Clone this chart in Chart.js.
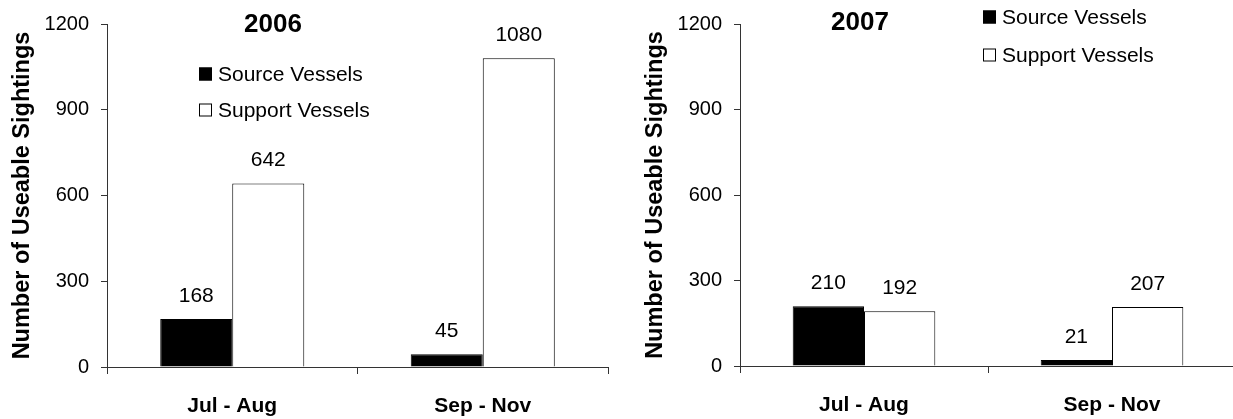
<!DOCTYPE html>
<html lang="en">
<head>
    <meta charset="UTF-8">
    <title>Useable Sightings</title>
    <script src="https://cdn.jsdelivr.net/npm/chart.js@4.4.1/dist/chart.umd.min.js"></script>
    <style>
        html, body { margin: 0; padding: 0; background: #fff; overflow: hidden; }
        .box { position: absolute; top: 0; height: 419px; }
        #box2006 { left: 0; width: 612px; }
        #box2007 { left: 633px; width: 606px; }
    </style>
</head>
<body>
<div class="box" id="box2006"><canvas id="chart2006" width="612" height="419"></canvas></div>
<div class="box" id="box2007"><canvas id="chart2007" width="606" height="419"></canvas></div>
<script>
    var categories = ["Jul - Aug", "Sep - Nov"];
    var seriesNames = ["Source Vessels", "Support Vessels"];
    var source2006 = [168, 45];
    var support2006 = [642, 1080];
    var source2007 = [210, 21];
    var support2007 = [192, 207];
    var yTicks = [0, 300, 600, 900, 1200];

    var FONT = "'Liberation Sans', Arial, sans-serif";
    var AXIS = "#333";

    // value labels above each bar
    var valueLabels = {
        id: "valueLabels",
        afterDatasetsDraw: function (chart) {
            var ctx = chart.ctx;
            ctx.save();
            ctx.font = "21px " + FONT;
            ctx.fillStyle = "#000";
            ctx.textAlign = "center";
            ctx.textBaseline = "alphabetic";
            chart.data.datasets.forEach(function (ds, i) {
                chart.getDatasetMeta(i).data.forEach(function (bar, j) {
                    ctx.fillText(String(ds.data[j]), bar.x, bar.y - 17);
                });
            });
            ctx.restore();
        }
    };

    // year title and the legend placed inside the plot
    var insideText = {
        id: "insideText",
        afterDraw: function (chart, args, opts) {
            var ctx = chart.ctx;
            var left = chart.chartArea.left;
            ctx.save();
            ctx.fillStyle = "#000";
            ctx.textAlign = "center";
            ctx.textBaseline = "middle";
            ctx.font = "bold 26px " + FONT;
            ctx.fillText(opts.title, left + opts.titleX, opts.titleY);

            ctx.font = "21px " + FONT;
            ctx.textAlign = "left";
            chart.data.datasets.forEach(function (ds, i) {
                var x = left + opts.legendX;
                var y = opts.legendY + i * opts.legendGap;
                ctx.fillStyle = ds.backgroundColor;
                ctx.fillRect(x, y - 6.5, 13, 13);
                ctx.strokeStyle = "#000";
                ctx.lineWidth = 1;
                ctx.strokeRect(x + 0.5, y - 6, 12, 12);
                ctx.fillStyle = "#000";
                ctx.fillText(ds.label, x + 19, y + 1);
            });
            ctx.restore();
        }
    };

    function makeChart(id, source, support, o) {
        return new Chart(document.getElementById(id), {
            type: "bar",
            data: {
                labels: categories,
                datasets: [
                    {
                        label: seriesNames[0],
                        data: source,
                        backgroundColor: "#000",
                        borderColor: "#000",
                        borderWidth: 1
                    },
                    {
                        label: seriesNames[1],
                        data: support,
                        backgroundColor: "#fff",
                        borderColor: "#000",
                        borderWidth: 1
                    }
                ]
            },
            options: {
                responsive: false,
                animation: false,
                events: [],
                barPercentage: 1,
                categoryPercentage: 0.575,
                layout: {padding: {top: o.top, right: o.right, bottom: 0, left: 0}},
                plugins: {
                    legend: {display: false},
                    tooltip: {enabled: false},
                    insideText: o
                },
                scales: {
                    x: {
                        grid: {
                            offset: true,
                            drawOnChartArea: false,
                            color: AXIS,
                            tickLength: 7
                        },
                        border: {color: AXIS},
                        ticks: {
                            color: "#000",
                            padding: 20,
                            font: {family: FONT, size: 21, weight: "bold"}
                        },
                        afterFit: function (scale) {
                            scale.height = 419 - o.bottom;
                        }
                    },
                    y: {
                        min: 0,
                        max: 1200,
                        afterBuildTicks: function (scale) {
                            scale.ticks = yTicks.map(function (v) { return {value: v}; });
                        },
                        grid: {
                            drawOnChartArea: false,
                            color: AXIS,
                            tickLength: 6
                        },
                        border: {color: AXIS},
                        ticks: {
                            color: "#000",
                            padding: 12,
                            font: {family: FONT, size: 20},
                            callback: function (v) { return String(v); }
                        },
                        title: {
                            display: true,
                            text: "Number of Useable Sightings",
                            color: "#000",
                            padding: {top: 8, bottom: 0},
                            font: {family: FONT, size: 23.5, weight: "bold"}
                        },
                        afterFit: function (scale) {
                            scale.width = 107;
                        }
                    }
                }
            },
            plugins: [valueLabels, insideText]
        });
    }

    makeChart("chart2006", source2006, support2006, {
        top: 19, bottom: 367, right: 4,
        title: "2006", titleX: 166, titleY: 25,
        legendX: 92, legendY: 74, legendGap: 36
    });
    makeChart("chart2007", source2007, support2007, {
        top: 16, bottom: 366, right: 3,
        title: "2007", titleX: 120, titleY: 23,
        legendX: 243, legendY: 17, legendGap: 38
    });
</script>
</body>
</html>
